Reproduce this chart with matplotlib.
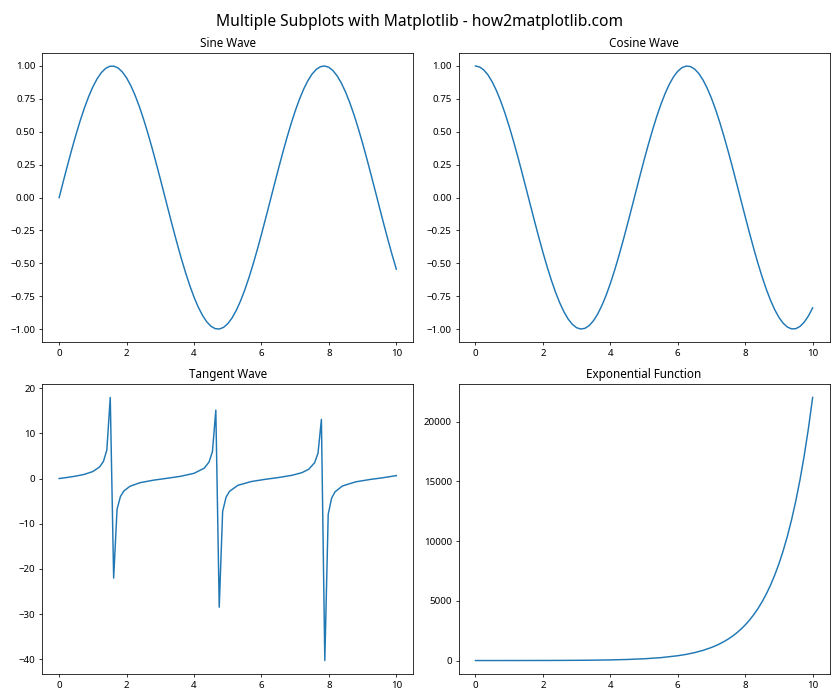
import matplotlib
matplotlib.use("Agg")
import matplotlib.pyplot as plt

plt.rcParams['font.family'] = ['Noto Sans', 'DejaVu Sans']

# values
x_wave = [0.0, 0.125, 0.25, 0.375, 0.5, 0.625, 0.75, 0.875, 1.0, 1.125, 1.25, 1.375, 1.5,
          1.625, 1.75, 1.875, 2.0, 2.125, 2.25, 2.375, 2.5, 2.625, 2.75, 2.875, 3.0, 3.125,
          3.25, 3.375, 3.5, 3.625, 3.75, 3.875, 4.0, 4.125, 4.25, 4.375, 4.5, 4.625, 4.75,
          4.875, 5.0, 5.125, 5.25, 5.375, 5.5, 5.625, 5.75, 5.875, 6.0, 6.125, 6.25, 6.375,
          6.5, 6.625, 6.75, 6.875, 7.0, 7.125, 7.25, 7.375, 7.5, 7.625, 7.75, 7.875, 8.0,
          8.125, 8.25, 8.375, 8.5, 8.625, 8.75, 8.875, 9.0, 9.125, 9.25, 9.375, 9.5, 9.625,
          9.75, 9.875, 10.0]
sine_vals = [0.0, 0.1247, 0.2474, 0.3663, 0.4794, 0.5851, 0.6816, 0.7675, 0.8415, 0.9023,
             0.9490, 0.9809, 0.9975, 0.9985, 0.9840, 0.9541, 0.9093, 0.8503, 0.7781, 0.6937,
             0.5985, 0.4939, 0.3817, 0.2634, 0.1411, 0.0166, -0.1082, -0.2313, -0.3508,
             -0.4648, -0.5716, -0.6694, -0.7568, -0.8324, -0.8950, -0.9436, -0.9775, -0.9962,
             -0.9993, -0.9868, -0.9589, -0.9161, -0.8589, -0.7884, -0.7055, -0.6117, -0.5083,
             -0.3969, -0.2794, -0.1575, -0.0332, 0.0917, 0.2151, 0.3352, 0.4500, 0.5579,
             0.6570, 0.7459, 0.8231, 0.8875, 0.9380, 0.9739, 0.9946, 0.9998, 0.9894, 0.9635,
             0.9226, 0.8673, 0.7985, 0.7172, 0.6247, 0.5225, 0.4121, 0.2953, 0.1739, 0.0498,
             -0.0751, -0.1989, -0.3195, -0.4352, -0.5440]
cosine_vals = [1.0, 0.9922, 0.9689, 0.9305, 0.8776, 0.8110, 0.7317, 0.6410, 0.5403, 0.4312,
               0.3153, 0.1945, 0.0707, -0.0542, -0.1782, -0.2995, -0.4161, -0.5263, -0.6282,
               -0.7203, -0.8011, -0.8695, -0.9243, -0.9647, -0.9900, -0.9999, -0.9941,
               -0.9729, -0.9365, -0.8854, -0.8206, -0.7429, -0.6536, -0.5542, -0.4461,
               -0.3310, -0.2108, -0.0873, 0.0376, 0.1619, 0.2837, 0.4010, 0.5121, 0.6152,
               0.7087, 0.7911, 0.8612, 0.9178, 0.9602, 0.9875, 0.9994, 0.9958, 0.9766, 0.9421,
               0.8930, 0.8299, 0.7539, 0.6661, 0.5679, 0.4609, 0.3466, 0.2270, 0.1036, -0.0210,
               -0.1455, -0.2677, -0.3857, -0.4978, -0.6020, -0.6969, -0.7809, -0.8526, -0.9111,
               -0.9554, -0.9848, -0.9988, -0.9972, -0.9800, -0.9476, -0.9004, -0.8391]

x_tan = [0.0, 0.25, 0.5, 0.75, 1.0, 1.2, 1.3131, 1.4141, 1.5152, 1.6162, 1.7172, 1.8182,
         1.9192, 2.1, 2.4, 2.8, 3.2, 3.6, 4.0, 4.3, 4.4444, 4.5455, 4.6465, 4.7475, 4.8485,
         4.9495, 5.0505, 5.3, 5.7, 6.1, 6.5, 6.9, 7.2, 7.4, 7.5758, 7.6768, 7.7778, 7.8788,
         7.9798, 8.0808, 8.1818, 8.4, 8.8, 9.2, 9.6, 10.0]
tan_vals = [0.0, 0.2553, 0.5463, 0.9316, 1.5574, 2.5722, 3.795, 6.331, 17.95, -22.03, -6.783,
            -3.960, -2.753, -1.7098, -0.9160, -0.3555, 0.0584, 0.4935, 1.1578, 2.2858, 3.642,
            5.935, 15.147, -28.49, -7.302, -4.138, -2.844, -1.5013, -0.6597, -0.1853, 0.2203,
            0.7091, 1.3046, 2.0493, 3.501, 5.584, 13.097, -40.30, -7.906, -4.333, -2.940,
            -1.6457, -0.7212, -0.2286, 0.1770, 0.6484]

x_exp = [0.0, 0.5, 1.0, 1.5, 2.0, 2.5, 3.0, 3.5, 4.0, 4.5, 5.0, 5.5, 6.0, 6.25, 6.5, 6.75,
         7.0, 7.125, 7.25, 7.375, 7.5, 7.625, 7.75, 7.875, 8.0, 8.125, 8.25, 8.375, 8.5,
         8.625, 8.75, 8.875, 9.0, 9.125, 9.25, 9.375, 9.5, 9.625, 9.75, 9.875, 10.0]
exp_vals = [1.0, 1.65, 2.72, 4.48, 7.39, 12.18, 20.09, 33.12, 54.60, 90.02, 148.41, 244.69,
            403.43, 518.01, 665.14, 854.06, 1096.63, 1242.65, 1408.10, 1595.59, 1808.04,
            2048.78, 2321.57, 2630.69, 2980.96, 3377.87, 3827.63, 4337.27, 4914.77, 5569.16,
            6310.69, 7150.96, 8103.08, 9181.99, 10404.57, 11789.93, 13359.73, 15138.54,
            17154.23, 19438.27, 22026.47]

fig, axs = plt.subplots(2, 2, figsize=(12, 10), dpi=70)

axs[0, 0].plot(x_wave, sine_vals)
axs[0, 0].set_title('Sine Wave')

axs[0, 1].plot(x_wave, cosine_vals)
axs[0, 1].set_title('Cosine Wave')

axs[1, 0].plot(x_tan, tan_vals)
axs[1, 0].set_title('Tangent Wave')

axs[1, 1].plot(x_exp, exp_vals)
axs[1, 1].set_title('Exponential Function')

fig.suptitle('Multiple Subplots with Matplotlib - how2matplotlib.com', fontsize=16)
plt.tight_layout()
plt.savefig('out.png')
